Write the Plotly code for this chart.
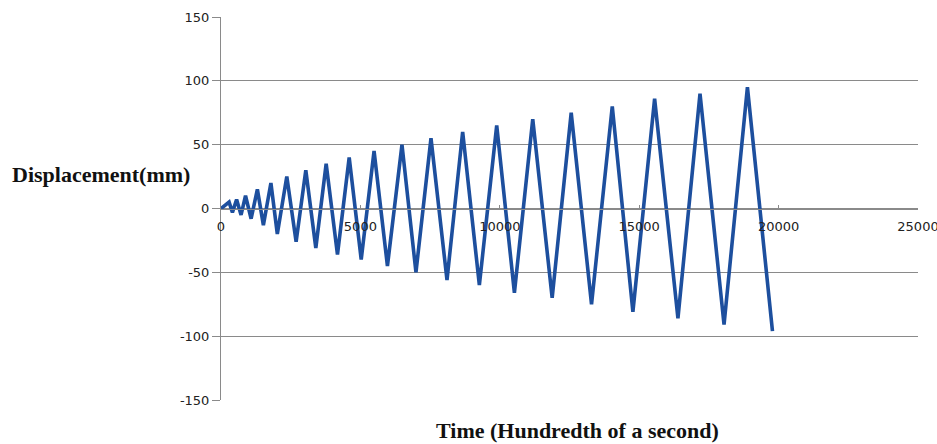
import plotly.graph_objects as go

# Vertex times (hundredths of a second) and displacements (mm)
time_pts = [0, 290, 410, 560, 720, 880, 1080, 1305, 1520, 1790, 2020, 2360, 2694,
            3042, 3401, 3772, 4178, 4598, 5029, 5490, 5970, 6491, 6993, 7532, 8106,
            8668, 9267, 9889, 10524, 11182, 11878, 12561, 13290, 14034, 14774, 15553,
            16390, 17181, 18043, 18882, 19780]
disp_pts = [0, 5, -3, 7, -5, 10, -8, 15, -13, 20, -20, 25, -26,
            30, -31, 35, -36, 40, -40, 45, -45, 50, -50, 55, -56,
            60, -60, 65, -66, 70, -70, 75, -75, 80, -81, 86,
            -86, 90, -91, 95, -96]

x_ticks = [0, 5000, 10000, 15000, 20000, 25000]
y_ticks = [-150, -100, -50, 0, 50, 100, 150]

y_title = "Displacement(mm)"
x_title = "Time (Hundredth of a second)"

W, H = 937, 444
ML, MR, MT, MB = 221, 19, 17, 44

fig = go.Figure()
fig.add_trace(go.Scatter(x=time_pts, y=disp_pts, mode="lines",
                         line=dict(color="#1d4f9e", width=3.6), showlegend=False))

tick_font = dict(family="DejaVu Sans, Verdana, sans-serif", size=13, color="#222222")
title_font = dict(family="Liberation Serif, Times New Roman, serif", size=22,
                  color="#111111", weight="bold")

fig.update_layout(
    width=W, height=H,
    margin=dict(l=ML, r=MR, t=MT, b=MB, autoexpand=False),
    paper_bgcolor="white", plot_bgcolor="white",
    xaxis=dict(range=[0, 25000], tickvals=x_ticks, ticktext=[str(v) for v in x_ticks],
               showgrid=False, zeroline=False, showline=True, linecolor="#8a8a8a",
               linewidth=1, ticks="inside", ticklen=4, tickcolor="#8a8a8a",
               ticklabelstandoff=6, ticklabeloverflow="allow", automargin=False,
               anchor="free", position=0.5, tickfont=tick_font),
    yaxis=dict(range=[-150, 150], tickvals=y_ticks, ticktext=[str(v) for v in y_ticks],
               showgrid=True, gridcolor="#8a8a8a", automargin=False,
               gridwidth=1, zeroline=False, showline=True, linecolor="#8a8a8a",
               linewidth=1, ticks="outside", ticklen=8, tickcolor="#8a8a8a",
               tickfont=tick_font),
)

pw = W - ML - MR
ph = H - MT - MB
def px_to_paper(px, py):
    return (px - ML) / pw, (H - MB - py) / ph

ax, ay = px_to_paper(101, 175)
bx, by = px_to_paper(577, 430)
fig.add_annotation(text=y_title, x=ax, y=ay, xref="paper", yref="paper", showarrow=False,
                   font=title_font, xanchor="center", yanchor="middle")
fig.add_annotation(text=x_title, x=bx, y=by, xref="paper", yref="paper", showarrow=False,
                   font=title_font, xanchor="center", yanchor="middle")

fig.write_html("out.html", config={"displayModeBar": False},
               post_script="document.body.style.margin='0';")
